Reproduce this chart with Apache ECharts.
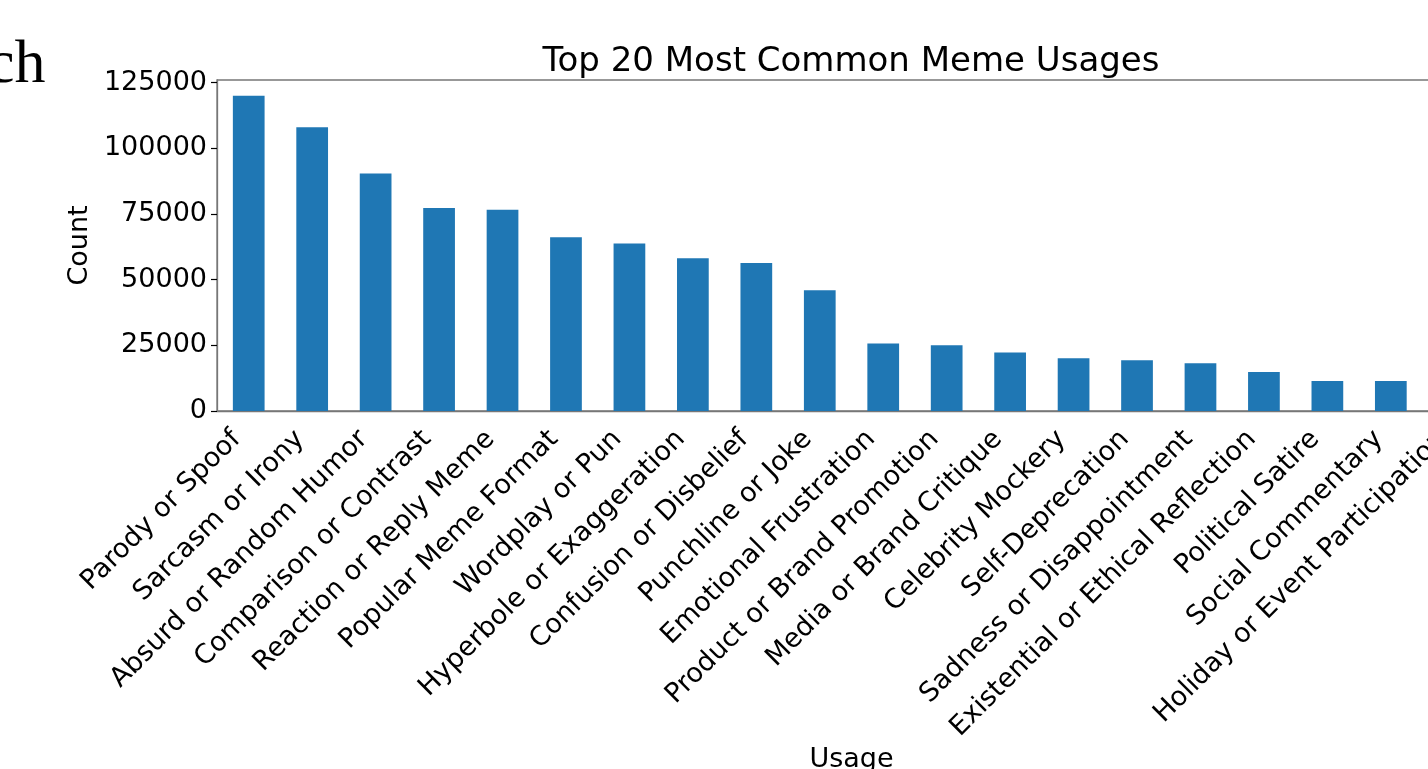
<!DOCTYPE html>
<html>
<head>
<meta charset="utf-8">
<title>Top 20 Most Common Meme Usages</title>
<script src="https://cdn.jsdelivr.net/npm/echarts@6/dist/echarts.min.js"></script>
<style>
  html, body { margin: 0; padding: 0; background: #fff; overflow: hidden; }
  #chart { width: 1500px; height: 769px; }
</style>
</head>
<body>
<div id="chart"></div>
<script>
// usage categories, sorted by count
var usages = [
  'Parody or Spoof', 'Sarcasm or Irony', 'Absurd or Random Humor', 'Comparison or Contrast',
  'Reaction or Reply Meme', 'Popular Meme Format', 'Wordplay or Pun', 'Hyperbole or Exaggeration',
  'Confusion or Disbelief', 'Punchline or Joke', 'Emotional Frustration', 'Product or Brand Promotion',
  'Media or Brand Critique', 'Celebrity Mockery', 'Self-Deprecation', 'Sadness or Disappointment',
  'Existential or Ethical Reflection', 'Political Satire', 'Social Commentary', 'Holiday or Event Participation'
]
var counts = [
  120000, 108000, 90400, 77300, 76600, 66100, 63800, 58100, 56300, 46000,
  25700, 25000, 22300, 20100, 19300, 18200, 14800, 11400, 11400, 11000
]
var yTicks = [0, 25000, 50000, 75000, 100000, 125000]

var font = 'DejaVu Sans'
var chart = echarts.init(document.getElementById('chart'))

chart.setOption({
  animation: false,
  grid: {
    left: 217, right: 14, top: 80, bottom: 358,
    outerBoundsMode: 'none',
    containLabel: false,
    show: true, borderColor: '#777', borderWidth: 1.3
  },
  graphic: [
    {
      // leftover of the surrounding page text, cut off at the edge
      type: 'text', left: -13, top: 35,
      style: { text: 'ch', font: '62px "Liberation Serif"', fill: '#000' }
    },
    {
      type: 'text', x: 851, y: 79,
      style: {
        text: 'Top 20 Most Common Meme Usages', font: '34px "DejaVu Sans"',
        fill: '#000', textAlign: 'center', textVerticalAlign: 'bottom'
      }
    }
  ],
  xAxis: {
    type: 'category',
    data: usages,
    name: 'Usage',
    nameLocation: 'middle',
    nameGap: 335,
    nameTextStyle: { fontFamily: font, fontSize: 27, color: '#000', verticalAlign: 'top' },
    axisLine: { lineStyle: { color: '#777', width: 1.3 } },
    axisTick: { alignWithLabel: true, length: 6, lineStyle: { color: '#000', width: 1.2 } },
    axisLabel: {
      interval: 0, rotate: 45, margin: 12, padding: [0, 17, 0, 0],
      fontFamily: font, fontSize: 27, color: '#000'
    }
  },
  yAxis: {
    type: 'value',
    min: 0,
    max: 126000,
    interval: 25000,
    name: 'Count',
    nameLocation: 'middle',
    nameRotate: 90,
    nameGap: 102,
    nameTextStyle: { fontFamily: font, fontSize: 27, color: '#000' },
    splitLine: { show: false },
    axisLine: { show: true, lineStyle: { color: '#777', width: 1.3 } },
    axisTick: { show: true, length: 6, customValues: yTicks, lineStyle: { color: '#000', width: 1.2 } },
    axisLabel: {
      customValues: yTicks, margin: 10, fontFamily: font, fontSize: 27, color: '#000',
      formatter: function (v) { return String(v) }
    }
  },
  series: [{
    type: 'bar',
    data: counts,
    barWidth: '50%',
    itemStyle: { color: '#1f77b4' }
  }]
})
</script>
</body>
</html>
